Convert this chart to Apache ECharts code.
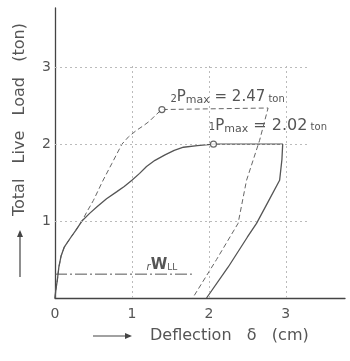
<!DOCTYPE html>
<html><head><meta charset="utf-8">
<script src="https://cdn.jsdelivr.net/npm/echarts@6/dist/echarts.min.js"></script>
<style>html,body{margin:0;background:#fff}#c{width:350px;height:361px}</style></head>
<body><div id="c"></div>
<script>
const xTicks = [1, 2, 3];
const yTicks = [1, 2, 3];
const specimen1 = [[0,0],[0.01,0.1],[0.03,0.23],[0.05,0.4],[0.08,0.55],[0.12,0.66],[0.2,0.78],[0.27,0.88],[0.35,1.0],[0.45,1.1],[0.55,1.19],[0.67,1.29],[0.8,1.38],[0.9,1.45],[1.0,1.53],[1.1,1.62],[1.19,1.71],[1.3,1.79],[1.43,1.86],[1.55,1.92],[1.67,1.96],[1.85,1.98],[2.06,2.0],[2.96,2.0],[2.95,1.8],[2.92,1.53],[2.77,1.25],[2.62,0.97],[2.5,0.79],[2.25,0.4],[1.97,0]];
const specimen2 = [[0,0],[0.01,0.1],[0.03,0.23],[0.05,0.4],[0.08,0.55],[0.12,0.66],[0.2,0.78],[0.27,0.88],[0.35,1.0],[0.42,1.13],[0.5,1.27],[0.62,1.52],[0.74,1.75],[0.87,2.0],[0.96,2.1],[1.06,2.18],[1.15,2.24],[1.23,2.3],[1.31,2.38],[1.39,2.45],[2.77,2.47],[2.66,2.05],[2.49,1.53],[2.38,0.97],[2.1,0.5],[1.79,0]];
const wLL = [[0,0.31],[1.78,0.31]];
const pmax1 = [2.06, 2.0];
const pmax2 = [1.39, 2.45];
const labelP1 = ['1', 'P', 'max', ' = 2.02', ' ton'];
const labelP2 = ['2', 'P', 'max', ' = 2.47', ' ton'];
const labelW = ['r', 'W', 'LL'];

const chart = echarts.init(document.getElementById('c'));
const C = '#555';
const gridLines = [];
xTicks.forEach(x => gridLines.push([{coord:[x,0]},{coord:[x,3.05]}]));
yTicks.forEach(y => gridLines.push([{coord:[0,y]},{coord:[3.3,y]}]));

chart.setOption({
  animation: false,
  grid: {left: 55, right: 5, top: 8, bottom: 63},
  xAxis: {type:'value', min:0, max:3.77, interval:1,
    axisLine:{lineStyle:{color:'#444', width:1.3}}, axisTick:{show:false}, splitLine:{show:false},
    axisLabel:{showMaxLabel:false, color:C, fontSize:14, margin:9, fontFamily:'DejaVu Sans'}},
  yAxis: {type:'value', min:0, max:3.77, interval:1,
    axisLine:{show:true, lineStyle:{color:'#444', width:1.3}}, axisTick:{show:false}, splitLine:{show:false},
    axisLabel:{showMaxLabel:false, showMinLabel:false, color:C, fontSize:14, margin:4, fontFamily:'DejaVu Sans'}},
  series: [
    {type:'line', data:[], silent:true,
      markLine:{silent:true, symbol:['none','none'], label:{show:false},
        lineStyle:{color:'#bbb', type:[2,3], width:1}, data:gridLines}},
    {type:'line', data:wLL, symbol:'none', lineStyle:{color:'#555', width:1, type:[12,3,2,3]}},
    {type:'line', data:specimen2, symbol:'none', lineStyle:{color:'#666', width:1, type:[5,3]}},
    {type:'line', data:specimen1, symbol:'none', lineStyle:{color:'#555', width:1.3}},
    {type:'scatter', data:[pmax1, pmax2], symbol:'circle', symbolSize:6, z:5,
      itemStyle:{color:'#fff', borderColor:'#444', borderWidth:1.2}}
  ]
});

function pmaxText(parts, px, fs) {
  return {type:'text', x:px[0], y:px[1], style:{
    text:'{s|'+parts[0]+'}{p|'+parts[1]+'}{m|'+parts[2]+'}{n|'+parts[3]+'}{t|'+parts[4]+'}',
    align:'left', verticalAlign:'bottom',
    rich:{
      s:{fontSize:10, fill:C, fontFamily:'DejaVu Sans', verticalAlign:'bottom', lineHeight:18, padding:[0,0,1,0]},
      p:{fontSize:15, fill:C, fontFamily:'DejaVu Sans', verticalAlign:'bottom', lineHeight:18},
      m:{fontSize:11, fill:C, fontFamily:'DejaVu Sans', verticalAlign:'bottom', lineHeight:18, padding:[0,0,-1,0]},
      n:{fontSize:fs, fill:C, fontFamily:'DejaVu Sans', verticalAlign:'bottom', lineHeight:18},
      t:{fontSize:10, fill:C, fontFamily:'DejaVu Sans', verticalAlign:'bottom', lineHeight:18, padding:[0,0,1,0]}
    }}};
}
const p2 = chart.convertToPixel({gridIndex:0}, [1.5, 2.51]);
const p1 = chart.convertToPixel({gridIndex:0}, [2.0, 2.14]);
const pw = chart.convertToPixel({gridIndex:0}, [1.19, 0.33]);

function arrowH(x1, x2, y) {
  return [
    {type:'line', shape:{x1:x1, y1:y, x2:x2-2, y2:y}, style:{stroke:'#444', lineWidth:1.2}},
    {type:'polygon', shape:{points:[[x2,y],[x2-7,y-3],[x2-7,y+3]]}, style:{fill:'#444'}}
  ];
}
function arrowV(x, y1, y2) {
  return [
    {type:'line', shape:{x1:x, y1:y1, x2:x, y2:y2+2}, style:{stroke:'#444', lineWidth:1.2}},
    {type:'polygon', shape:{points:[[x,y2],[x-3,y2+7],[x+3,y2+7]]}, style:{fill:'#444'}}
  ];
}

chart.setOption({graphic:[
  pmaxText(labelP2, p2, 15),
  pmaxText(labelP1, p1, 16),
  {type:'text', x:pw[0], y:pw[1], style:{
    text:'{r|'+labelW[0]+'}{w|'+labelW[1]+'}{l|'+labelW[2]+'}', align:'left', verticalAlign:'bottom',
    rich:{
      r:{fontSize:10, fill:C, fontStyle:'italic', fontFamily:'DejaVu Sans', verticalAlign:'bottom', lineHeight:16},
      w:{fontSize:15, fill:C, fontWeight:'bold', fontFamily:'DejaVu Sans', verticalAlign:'bottom', lineHeight:16},
      l:{fontSize:9, fill:C, fontFamily:'DejaVu Sans', verticalAlign:'bottom', lineHeight:16}
    }}},
  ...arrowH(93, 132, 336),
  {type:'text', x:150, y:336, style:{text:'Deflection   δ   (cm)', fill:C, fontSize:16, fontFamily:'DejaVu Sans', align:'left', verticalAlign:'middle'}},
  ...arrowV(20, 277, 230),
  {type:'text', x:20, y:216, rotation:Math.PI/2, style:{text:'Total   Live   Load   (ton)', fill:C, fontSize:16, fontFamily:'DejaVu Sans', align:'left', verticalAlign:'middle'}}
]});
</script></body></html>
